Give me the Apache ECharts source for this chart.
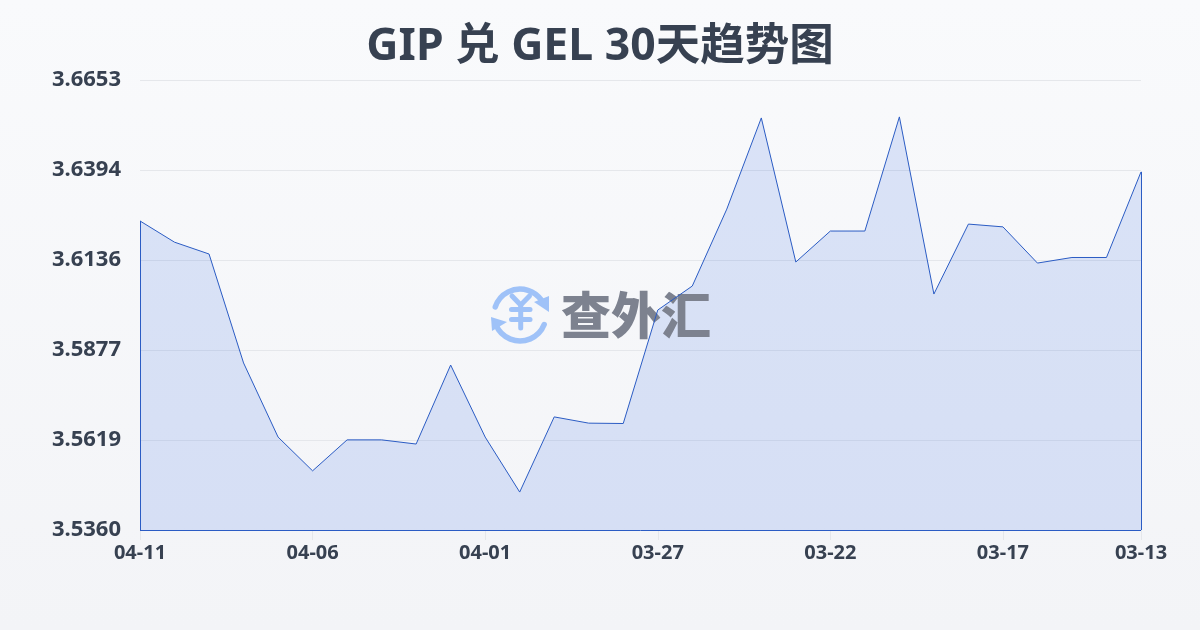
<!DOCTYPE html>
<html><head><meta charset="utf-8">
<style>html,body{margin:0;padding:0;background:#f6f7fa}#c{width:1200px;height:630px}</style>
<script src="https://cdn.jsdelivr.net/npm/echarts@6/dist/echarts.min.js"></script>
</head><body><div id="c"></div>
<script>
const titleText = 'GIP 兑 GEL 30天趋势图';
const watermarkText = '查外汇';
const dates = ['04-11','04-10','04-09','04-08','04-07','04-06','04-05','04-04','04-03','04-02','04-01','03-31','03-30','03-29','03-28','03-27','03-26','03-25','03-24','03-23','03-22','03-21','03-20','03-19','03-18','03-17','03-16','03-15','03-14','03-13'];
const rates = [3.6248,3.6187,3.6153,3.5840,3.5627,3.5530,3.5619,3.5619,3.5607,3.5834,3.5627,3.5469,3.5685,3.5667,3.5666,3.5992,3.6061,3.6282,3.6544,3.6130,3.6219,3.6219,3.6547,3.6038,3.6239,3.6231,3.6127,3.6143,3.6143,3.6389];
const yTicks = [3.5360,3.5619,3.5877,3.6136,3.6394,3.6653];
const xTickEvery = 5;

const FONT = '"Noto Sans","Noto Sans CJK SC",sans-serif';
const LINE = '#2b5cc4';
const isXTick = i => i % xTickEvery === 0 || i === dates.length - 1;
const yMin = yTicks[0], yMax = yTicks[yTicks.length - 1], last = dates.length - 1;
const iconStroke = {stroke:'#9fc2f8', lineWidth:5.5, lineCap:'round', fill:'none'};
const yenStroke = {stroke:'#9fc2f8', lineWidth:5, lineCap:'round', lineJoin:'round', fill:'none'};

const chart = echarts.init(document.getElementById('c'), null, {renderer:'canvas', width:1200, height:630});
chart.setOption({
  animation:false,
  backgroundColor:{type:'linear',x:0,y:0,x2:0,y2:1,colorStops:[{offset:0,color:'#f9fafc'},{offset:1,color:'#f3f4f7'}]},
  title:{text:titleText,left:'center',top:20,textStyle:{fontFamily:FONT,fontSize:44.5,fontWeight:700,color:'#374151'}},
  grid:{left:140,right:59,top:80,bottom:100,containLabel:false},
  xAxis:{type:'category',data:dates,boundaryGap:false,
    axisLine:{show:false},
    axisTick:{show:true,length:10,interval:i=>isXTick(i),lineStyle:{color:'#e5e7eb',width:1}},
    axisLabel:{interval:i=>isXTick(i),margin:13,fontFamily:FONT,fontSize:20,fontWeight:700,color:'#374151'},
    splitLine:{show:false}},
  yAxis:{type:'value',min:yMin,max:yMax,
    axisLine:{show:false},
    axisTick:{show:false,customValues:yTicks},
    axisLabel:{customValues:yTicks,margin:19,fontFamily:FONT,fontSize:22,fontWeight:700,color:'#374151',formatter:v=>v.toFixed(4)},
    splitLine:{show:true,lineStyle:{color:'#e5e7eb',width:1}}},
  graphic:{elements:[
    {type:'group',z:3,silent:true,children:[
      {type:'arc',shape:{cx:520,cy:315,r:26,startAngle:Math.PI*1.1,endAngle:Math.PI*1.8},style:iconStroke,z:3},
      {type:'arc',shape:{cx:520,cy:315,r:26,startAngle:Math.PI*0.12,endAngle:Math.PI*0.88},style:iconStroke,z:3},
      {type:'polygon',shape:{points:[[534,302],[549,296],[549,312]]},style:{fill:'#9fc2f8'},z:3},
      {type:'polygon',shape:{points:[[491,317],[507,322],[492,331]]},style:{fill:'#9fc2f8'},z:3},
      {type:'polyline',shape:{points:[[512,296],[520.7,305],[529.5,296]]},style:yenStroke,z:3},
      {type:'line',shape:{x1:511.5,y1:309.5,x2:530,y2:309.5},style:yenStroke,z:3},
      {type:'line',shape:{x1:511.5,y1:319.5,x2:530,y2:319.5},style:yenStroke,z:3},
      {type:'line',shape:{x1:520.7,y1:305,x2:520.7,y2:328},style:yenStroke,z:3},
      {type:'text',x:636,y:315,z:3,style:{text:watermarkText,fontFamily:'"Noto Sans CJK SC"',fontSize:50,fontWeight:900,fill:'#7d828f',textAlign:'center',textVerticalAlign:'middle'}}
    ]}
  ]},
  series:[
   {type:'line',z:2,data:rates,symbol:'none',smooth:false,clip:false,silent:true,
    lineStyle:{width:0,opacity:0},
    areaStyle:{color:'rgba(38,95,225,0.14)',opacity:1}},
   {type:'line',z:5,data:rates,symbol:'none',smooth:false,clip:false,
    lineStyle:{color:LINE,width:1},
    markLine:{silent:true,z:5,symbol:'none',label:{show:false},animation:false,
      lineStyle:{color:LINE,width:1,type:'solid'},
      data:[
        [{coord:[0,yMin]},{coord:[0,rates[0]]}],
        [{coord:[last,yMin]},{coord:[last,rates[last]]}],
        [{coord:[0,yMin]},{coord:[last,yMin]}]
      ]}
  }]
});
</script></body></html>
